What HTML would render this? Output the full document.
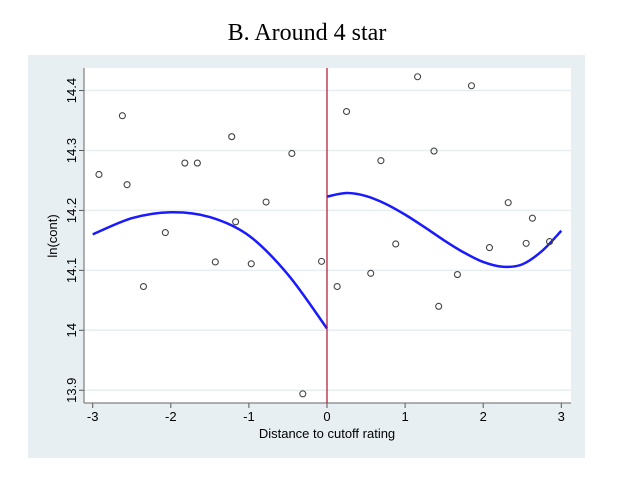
<!DOCTYPE html>
<html><head><meta charset="utf-8"><style>
body{margin:0;background:#fff;width:642px;height:498px;overflow:hidden}
svg{display:block}
text{font-family:"Liberation Sans",sans-serif}
</style></head><body>
<svg id="c" width="642" height="498">
<text x="307" y="40" text-anchor="middle" style="font-family:'Liberation Serif',serif" font-size="24">B. Around 4 star</text>
<rect x="28" y="55" width="557" height="403" fill="#e8eff2"/>
<rect x="84" y="68" width="487" height="335" fill="#fff"/>
<g id="g"></g>
</svg>
<script>
const yTicks=[13.9,14,14.1,14.2,14.3,14.4];
const yTickLabels=["13.9","14","14.1","14.2","14.3","14.4"];
const xTicks=[-3,-2,-1,0,1,2,3];
const xTickLabels=["-3","-2","-1","0","1","2","3"];
const ptX=[-2.92,-2.62,-2.56,-2.35,-2.07,-1.82,-1.66,-1.43,-1.22,-1.17,-0.97,-0.78,-0.45,-0.31,-0.07,0.13,0.25,0.56,0.69,0.88,1.16,1.37,1.43,1.67,1.85,2.08,2.32,2.55,2.63,2.85];
const ptY=[14.26,14.358,14.243,14.073,14.163,14.279,14.279,14.114,14.323,14.181,14.111,14.214,14.295,13.894,14.115,14.073,14.365,14.095,14.283,14.144,14.423,14.299,14.04,14.093,14.408,14.138,14.213,14.145,14.187,14.148];
const leftFitX=[-3,-2.5,-2,-1.5,-1,-0.5,0];
const leftFitY=[14.160,14.187,14.197,14.189,14.158,14.093,14.003];
const rightFitX=[0,0.25,0.5,0.75,1,1.25,1.5,1.75,2,2.25,2.5,2.75,3];
const rightFitY=[14.223,14.229,14.224,14.211,14.193,14.172,14.150,14.130,14.114,14.106,14.110,14.132,14.166];
const cutoff=0;
const sx=v=>327+v*78.1;
const sy=v=>330.3-(v-14)*599.4;
const NS="http://www.w3.org/2000/svg";
const g=document.getElementById('g');
function mk(t,a){const e=document.createElementNS(NS,t);for(const k in a)e.setAttribute(k,a[k]);g.appendChild(e);return e;}
yTicks.forEach((v,i)=>{
 const l=mk('line',{x1:84,x2:571,y1:sy(v),y2:sy(v),stroke:'#e6eef1','stroke-width':1.5});
 
 
 const t=mk('line',{x1:79,x2:84,y1:sy(v),y2:sy(v),stroke:'#555'});
 
 
 const tx=mk('text',{x:0,y:0,'font-size':13,'text-anchor':'middle',transform:`translate(76,${sy(v)}) rotate(-90)`});
 tx.textContent=yTickLabels[i];
 
 
});
xTicks.forEach((v,i)=>{
 const t=mk('line',{x1:sx(v),x2:sx(v),y1:403,y2:408,stroke:'#555'});
 
 
 const tx=mk('text',{x:sx(v),y:421,'font-size':13,'text-anchor':'middle'});
 tx.textContent=xTickLabels[i];
 
 
});
let a=mk('line',{x1:84,x2:84,y1:68,y2:403,stroke:'#666'});


a=mk('line',{x1:84,x2:571,y1:403,y2:403,stroke:'#666'});


let lb=mk('text',{x:327,y:438,'font-size':13,'text-anchor':'middle'});
lb.textContent='Distance to cutoff rating';


lb=mk('text',{x:0,y:0,'font-size':13,'text-anchor':'middle',transform:'translate(57,236) rotate(-90)'});
lb.textContent='ln(cont)';


function smooth(xs,ys){
 const p=xs.map((x,i)=>[sx(x),sy(ys[i])]);
 let d=`M${p[0][0]},${p[0][1]}`;
 for(let i=0;i<p.length-1;i++){
  const p0=p[Math.max(0,i-1)],p1=p[i],p2=p[i+1],p3=p[Math.min(p.length-1,i+2)];
  d+=` C${p1[0]+(p2[0]-p0[0])/6},${p1[1]+(p2[1]-p0[1])/6} ${p2[0]-(p3[0]-p1[0])/6},${p2[1]-(p3[1]-p1[1])/6} ${p2[0]},${p2[1]}`;
 }
 return d;
}
let c=mk('path',{d:smooth(leftFitX,leftFitY),fill:'none',stroke:'#1a1aff','stroke-width':2.5});


c=mk('path',{d:smooth(rightFitX,rightFitY),fill:'none',stroke:'#1a1aff','stroke-width':2.5});


c=mk('line',{x1:sx(cutoff),x2:sx(cutoff),y1:68,y2:403,stroke:'#b01030','stroke-width':1.2});


ptX.forEach((x,i)=>{
 const e=mk('circle',{cx:sx(x),cy:sy(ptY[i]),r:3,fill:'none',stroke:'#444','stroke-width':1.1});
 
 
});
</script>
</body></html>
